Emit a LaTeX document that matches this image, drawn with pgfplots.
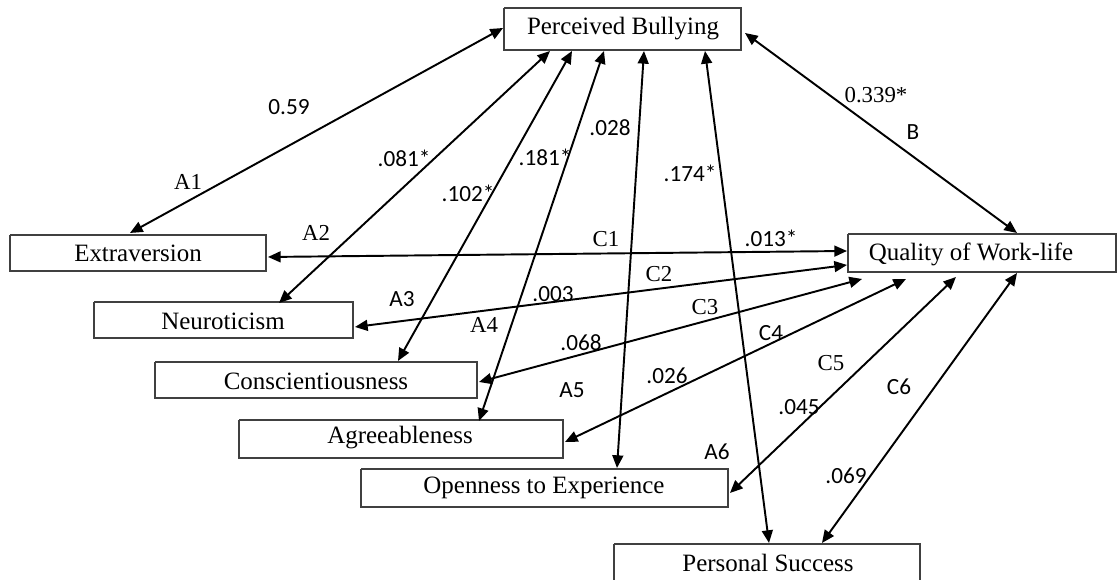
\documentclass[border=0pt]{standalone}
\usepackage{fontspec}
\setmainfont{Liberation Serif}
\newfontfamily\lsans{Carlito}
\usepackage{pgfplots}
\pgfplotsset{compat=1.18}
\usetikzlibrary{arrows.meta}
\tikzset{
  boxst/.style={draw=black!75, line width=0.45pt, mark=none, fill=white},
  arr/.style={black, line width=0.55pt, mark=none, {Triangle[length=3.6pt,width=3.1pt]}-{Triangle[length=3.6pt,width=3.1pt]}},
  bx/.style={font=\fontsize{7.1}{8}\selectfont, inner sep=0pt},
  sl/.style={font=\lsans\fontsize{6.6}{8}\selectfont, inner sep=0pt},
  rl/.style={font=\fontsize{6.5}{8}\selectfont, inner sep=0pt},
}
\begin{document}
\begin{tikzpicture}
\begin{axis}[
  name=ax,
  scale only axis, width=11.19cm, height=5.8cm,
  xmin=0, xmax=1119, ymin=0, ymax=580, y dir=reverse,
  axis lines=none, clip=false,
]
% boxes
\addplot[boxst] coordinates {(504,8)(741,8)(741,50)(504,50)(504,8)};
\addplot[boxst] coordinates {(10,235)(266,235)(266,271)(10,271)(10,235)};
\addplot[boxst] coordinates {(848,234)(1116,234)(1116,272)(848,272)(848,234)};
\addplot[boxst] coordinates {(94,302)(353,302)(353,338)(94,338)(94,302)};
\addplot[boxst] coordinates {(155,362)(477,362)(477,398)(155,398)(155,362)};
\addplot[boxst] coordinates {(239,420)(563,420)(563,458)(239,458)(239,420)};
\addplot[boxst] coordinates {(361,469)(728,469)(728,507)(361,507)(361,469)};
\addplot[boxst] coordinates {(614,544)(920,544)(920,584)(614,584)(614,544)};
% arrows A
\addplot[arr] coordinates {(503,28)(130,233)};
\addplot[arr] coordinates {(550,51)(279,303)};
\addplot[arr] coordinates {(572,51)(398,361)};
\addplot[arr] coordinates {(604,51)(479,421)};
\addplot[arr] coordinates {(644,51)(617,468)};
\addplot[arr] coordinates {(705,51)(769,543)};
% B
\addplot[arr] coordinates {(745,33)(1017,233)};
% arrows C
\addplot[arr] coordinates {(268,257)(847,251)};
\addplot[arr] coordinates {(355,327)(847,265)};
\addplot[arr] coordinates {(479,382)(862,279)};
\addplot[arr] coordinates {(565,442)(906,279)};
\addplot[arr] coordinates {(730,493)(956,277)};
\addplot[arr] coordinates {(822,543)(1017,273)};
% box texts
\node[bx] at (axis cs:623,29) {Perceived Bullying};
\node[bx] at (axis cs:138,253) {Extraversion};
\node[bx] at (axis cs:971,254) {Quality of Work-life};
\node[bx] at (axis cs:223,321) {Neuroticism};
\node[bx] at (axis cs:316,381) {Conscientiousness};
\node[bx] at (axis cs:400,438) {Agreeableness};
\node[bx] at (axis cs:544,488) {Openness to Experience};
\node[bx] at (axis cs:768,563) {Personal Success};
% labels
\node[sl] at (axis cs:289,107) {0.59};
\node[rl] at (axis cs:188,182) {A1};
\node[sl] at (axis cs:404,158) {.081*};
\node[sl] at (axis cs:468,193) {.102*};
\node[sl] at (axis cs:545,157) {.181*};
\node[rl] at (axis cs:316,233) {A2};
\node[sl] at (axis cs:610,128) {.028};
\node[sl] at (axis cs:690,173) {.174*};
\node[rl] at (axis cs:876,95) {0.339*};
\node[sl] at (axis cs:913,132) {B};
\node[rl] at (axis cs:606,239) {C1};
\node[sl] at (axis cs:771,238) {.013*};
\node[rl] at (axis cs:659,274) {C2};
\node[sl] at (axis cs:402,299) {A3};
\node[rl] at (axis cs:484,325) {A4};
\node[sl] at (axis cs:553,294) {.003};
\node[rl] at (axis cs:705,307) {C3};
\node[sl] at (axis cs:581,343) {.068};
\node[sl] at (axis cs:771,333) {C4};
\node[sl] at (axis cs:667,376) {.026};
\node[sl] at (axis cs:572,390) {A5};
\node[rl] at (axis cs:831,363) {C5};
\node[sl] at (axis cs:899,387) {C6};
\node[sl] at (axis cs:799,407) {.045};
\node[sl] at (axis cs:717,452) {A6};
\node[sl] at (axis cs:846,476) {.069};
\end{axis}
\pgfresetboundingbox
\useasboundingbox (ax.south west) rectangle (ax.north east);
\end{tikzpicture}
\end{document}
